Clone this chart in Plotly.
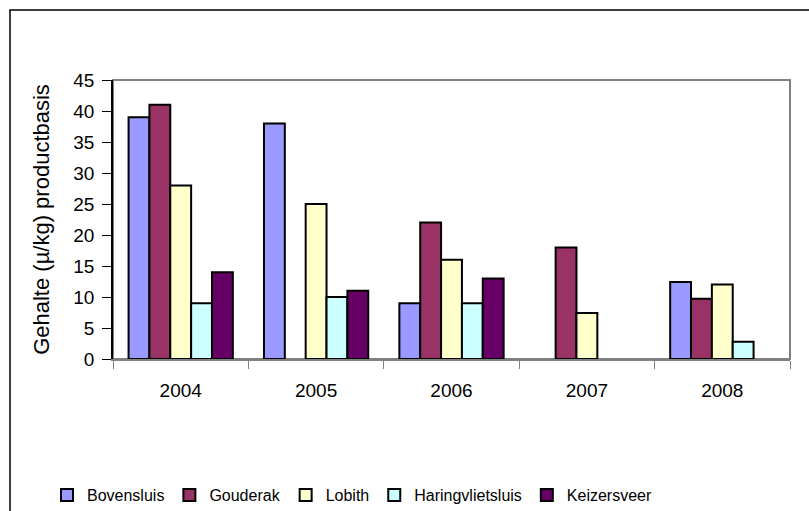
import plotly.graph_objects as go

years = ["2004", "2005", "2006", "2007", "2008"]
bovensluis = [39, 38, 9, None, 12.4]
gouderak = [41, None, 22, 18, 9.7]
lobith = [28, 25, 16, 7.4, 12]
haringvlietsluis = [9, 10, 9, None, 2.8]
keizersveer = [14, 11, 13, None, None]

series = [
    ("Bovensluis", bovensluis, "#9999FF"),
    ("Gouderak", gouderak, "#993366"),
    ("Lobith", lobith, "#FFFFCC"),
    ("Haringvlietsluis", haringvlietsluis, "#CCFFFF"),
    ("Keizersveer", keizersveer, "#660066"),
]

fig = go.Figure()
for name, vals, col in series:
    fig.add_trace(go.Bar(x=years, y=vals, name=name,
                         marker=dict(color=col, line=dict(color="black", width=2))))

font = "Liberation Sans, Arial, sans-serif"
fig.update_layout(
    width=809, height=511,
    margin=dict(l=113, r=19, t=80, b=152),
    paper_bgcolor="white", plot_bgcolor="white",
    barmode="group", bargap=0.23, bargroupgap=0,
    font=dict(family=font, size=15, color="black"),
    showlegend=True,
    legend=dict(orientation="h", xref="container", yref="container",
                x=352 / 809, y=(511 - 495) / 511,
                xanchor="center", yanchor="middle",
                font=dict(size=16), itemwidth=30, tracegroupgap=0),
    xaxis=dict(type="category", showline=True, linecolor="#808080", linewidth=1.5,
               ticks="outside", tickson="boundaries", ticklen=8, tickcolor="#808080",
               showgrid=False, tickfont=dict(size=19), ticklabelstandoff=13,
               automargin=False),
    yaxis=dict(range=[0, 45], dtick=5, showline=True, linecolor="black", linewidth=1.5,
               ticks="outside", ticklen=9, tickcolor="black", showgrid=False,
               zeroline=False, tickfont=dict(size=19), ticklabelstandoff=4,
               automargin=False,
               title=dict(text="Gehalte (µ/kg) productbasis", font=dict(size=22), standoff=18)),
    shapes=[
        dict(type="rect", xref="paper", yref="paper", x0=0, y0=0, x1=1, y1=1,
             line=dict(color="#808080", width=2), layer="below"),
        dict(type="rect", xref="paper", yref="paper", x0=(10 - 113) / 677, y0=-1.0,
             x1=1.2, y1=(359 - 10) / 279, line=dict(color="black", width=1.5)),
    ],
)

fig.write_html("out.html")
